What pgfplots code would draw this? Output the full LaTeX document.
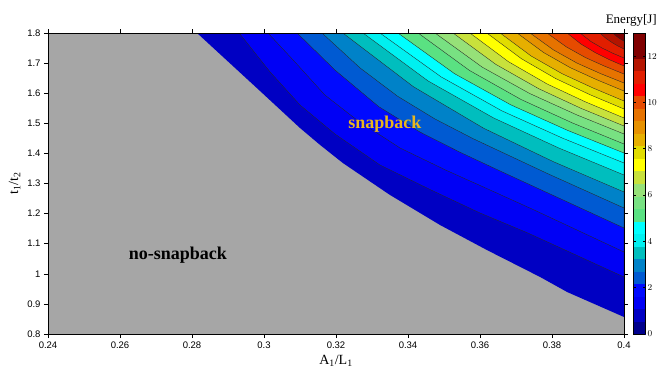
\documentclass[border=0pt]{standalone}
\usepackage{fontspec}
\setmainfont{Liberation Serif}
\setsansfont{Liberation Sans}
\usepackage{pgfplots}
\pgfplotsset{compat=1.18}
\usetikzlibrary{calc}
\definecolor{cgray}{RGB}{166,166,166}
\definecolor{c02}{RGB}{0,0,195}
\definecolor{c03}{RGB}{0,0,245}
\definecolor{c04}{RGB}{0,10,255}
\definecolor{c05}{RGB}{0,90,210}
\definecolor{c06}{RGB}{0,130,200}
\definecolor{c07}{RGB}{0,190,190}
\definecolor{c08}{RGB}{0,240,240}
\definecolor{c09}{RGB}{0,255,255}
\definecolor{c10}{RGB}{90,225,130}
\definecolor{c11}{RGB}{120,225,130}
\definecolor{c12}{RGB}{150,225,120}
\definecolor{c13}{RGB}{200,225,60}
\definecolor{c14}{RGB}{255,255,0}
\definecolor{c15}{RGB}{225,220,0}
\definecolor{c16}{RGB}{230,175,0}
\definecolor{c17}{RGB}{230,145,0}
\definecolor{c18}{RGB}{230,115,0}
\definecolor{c19}{RGB}{230,75,0}
\definecolor{c20}{RGB}{255,0,0}
\definecolor{c21}{RGB}{225,30,0}
\definecolor{c22}{RGB}{180,20,0}
\definecolor{c23}{RGB}{128,0,0}
\definecolor{snapgold}{RGB}{232,182,30}
\pgfplotsset{colormap={bands}{
 rgb255=(0,0,140) rgb255=(0,0,195) rgb255=(0,0,245) rgb255=(0,10,255)
 rgb255=(0,90,210) rgb255=(0,130,200) rgb255=(0,190,190) rgb255=(0,240,240)
 rgb255=(0,255,255) rgb255=(90,225,130) rgb255=(120,225,130) rgb255=(150,225,120)
 rgb255=(200,225,60) rgb255=(255,255,0) rgb255=(225,220,0) rgb255=(230,175,0)
 rgb255=(230,145,0) rgb255=(230,115,0) rgb255=(230,75,0) rgb255=(255,0,0)
 rgb255=(225,30,0) rgb255=(180,20,0) rgb255=(128,0,0) rgb255=(128,0,0)}}
\begin{document}
\begin{tikzpicture}
\begin{axis}[
  name=ax,
  scale only axis, width=576pt, height=301pt,
  xmin=0.24, xmax=0.4, ymin=0.8, ymax=1.8,
  xtick={0.24,0.26,...,0.41}, ytick={0.8,0.9,...,1.81},
  axis on top,
  axis background/.style={fill=cgray},
  axis line style={line width=0.9pt},
  tick align=outside, major tick length=4pt,
  every tick/.style={black, line width=0.6pt},
  tick label style={font=\sffamily\fontsize{9.5}{11}\selectfont},
  /pgf/number format/assume math mode=true,
  xticklabel style={/pgf/number format/fixed, /pgf/number format/precision=2},
  yticklabel style={/pgf/number format/fixed, /pgf/number format/precision=1},
  xlabel={A\textsubscript{1}/L\textsubscript{1}},
  ylabel={t\textsubscript{1}/t\textsubscript{2}},
  label style={font=\fontsize{14}{16}\selectfont},
  colormap name=bands,
  colormap access=piecewise constant,
  point meta min=0, point meta max=13,
  colorbar,
  colorbar shift/.style={xshift=9pt},
  colorbar style={at={(parent axis.north east)}, anchor=north west,
    width=12pt, ytick={0,2,...,12},
    yticklabel style={font=\sffamily\fontsize{9}{10}\selectfont, xshift=-1pt},
    major tick length=2.5pt},
]
% band above the no-snapback boundary
\addplot[fill=c02, draw=none] coordinates {(0.2814,1.8) (0.2989,1.6073) (0.3100,1.4844) (0.3156,1.4279) (0.3219,1.3681) (0.3350,1.2618) (0.3489,1.1621) (0.3619,1.0791) (0.3767,0.9894) (0.3842,0.9395) (0.4,0.8565) (0.4,1.8)};
\pgfplotsset{cline/.style={draw=black!85, line width=0.35pt}}
\addplot[fill=c03, cline] coordinates {(0.2931,1.8) (0.3017,1.6704) (0.3100,1.5608) (0.3197,1.4645) (0.3322,1.3615) (0.3464,1.2784) (0.3600,1.2020) (0.3733,1.1355) (0.4,0.9894) (0.4,1.8)};
\addplot[fill=c04, cline] coordinates {(0.3011,1.8) (0.3086,1.7037) (0.3169,1.5940) (0.3258,1.5110) (0.3378,1.4179) (0.3506,1.3439) (0.3628,1.2784) (0.3753,1.2106) (0.4,1.0724) (0.4,1.8)};
\addplot[fill=c05, cline] coordinates {(0.3092,1.8) (0.3197,1.6771) (0.3319,1.5551) (0.3433,1.4711) (0.3546,1.4030) (0.3656,1.3415) (0.3773,1.2771) (0.4,1.1522) (0.4,1.8)};
\addplot[fill=c06, cline] coordinates {(0.3161,1.8) (0.3267,1.6837) (0.3371,1.5900) (0.3475,1.5143) (0.3581,1.4488) (0.3790,1.3316) (0.4,1.2186) (0.4,1.8)};
\addplot[fill=c07, cline] coordinates {(0.3219,1.8) (0.3415,1.6216) (0.3610,1.4837) (0.3805,1.3718) (0.4,1.2718) (0.4,1.8)};
\addplot[fill=c08, cline] coordinates {(0.3275,1.8) (0.3456,1.6405) (0.3638,1.5176) (0.3819,1.4179) (0.4,1.3282) (0.4,1.8)};
\addplot[fill=c09, cline] coordinates {(0.3322,1.8) (0.3492,1.6542) (0.3661,1.5412) (0.3831,1.4498) (0.4,1.3681) (0.4,1.8)};
\addplot[fill=c10, cline] coordinates {(0.3372,1.8) (0.3529,1.6651) (0.3686,1.5611) (0.3843,1.4767) (0.4,1.4013) (0.4,1.8)};
\addplot[fill=c11, cline] coordinates {(0.3428,1.8) (0.3571,1.6754) (0.3714,1.5791) (0.3857,1.5010) (0.4,1.4312) (0.4,1.8)};
\addplot[fill=c12, cline] coordinates {(0.3475,1.8) (0.3606,1.6867) (0.3738,1.5990) (0.3869,1.5279) (0.4,1.4645) (0.4,1.8)};
\addplot[fill=c13, cline] coordinates {(0.3525,1.8) (0.3644,1.6957) (0.3763,1.6150) (0.3881,1.5495) (0.4,1.4910) (0.4,1.8)};
\addplot[fill=c14, cline] coordinates {(0.3572,1.8) (0.3679,1.7047) (0.3786,1.6309) (0.3893,1.5711) (0.4,1.5176) (0.4,1.8)};
\addplot[fill=c15, cline] coordinates {(0.3619,1.8) (0.3715,1.7146) (0.3810,1.6488) (0.3905,1.5953) (0.4,1.5475) (0.4,1.8)};
\addplot[fill=c16, cline] coordinates {(0.3656,1.8) (0.3742,1.7236) (0.3828,1.6648) (0.3914,1.6173) (0.4,1.5741) (0.4,1.8)};
\addplot[fill=c17, cline] coordinates {(0.3703,1.8) (0.3777,1.7349) (0.3851,1.6847) (0.3926,1.6439) (0.4,1.6073) (0.4,1.8)};
\addplot[fill=c18, cline] coordinates {(0.3739,1.8) (0.3804,1.7439) (0.3869,1.7003) (0.3935,1.6651) (0.4,1.6339) (0.4,1.8)};
\addplot[fill=c19, cline] coordinates {(0.3786,1.8) (0.3840,1.7538) (0.3893,1.7183) (0.3947,1.6894) (0.4,1.6638) (0.4,1.8)};
\addplot[fill=c20, cline] coordinates {(0.3842,1.8) (0.3881,1.7628) (0.3921,1.7342) (0.3960,1.7110) (0.4,1.6904) (0.4,1.8)};
\addplot[fill=c21, cline] coordinates {(0.3878,1.8) (0.3908,1.7718) (0.3939,1.7502) (0.3969,1.7326) (0.4,1.7169) (0.4,1.8)};
\addplot[fill=c22, cline] coordinates {(0.3933,1.8) (0.3950,1.7821) (0.3967,1.7681) (0.3983,1.7568) (0.4,1.7468) (0.4,1.8)};
\addplot[fill=c23, cline] coordinates {(0.3969,1.8) (0.3977,1.7910) (0.3985,1.7841) (0.3992,1.7784) (0.4,1.7734) (0.4,1.8)};
\node[font=\bfseries\fontsize{18}{20}\selectfont, text=snapgold] at (axis cs:0.3336,1.4977) {snapback};
\node[font=\bfseries\fontsize{18}{20}\selectfont, text=black] at (axis cs:0.2761,1.0625) {no-snapback};
\end{axis}
\node[anchor=south east, font=\fontsize{13}{15}\selectfont, inner sep=0pt] at ($(ax.north east)+(33pt,6pt)$) {Energy[J]};
\pgfresetboundingbox
\path[use as bounding box] ($(ax.south west)+(-48pt,-39pt)$) rectangle ($(ax.north east)+(33pt,33pt)$);
\end{tikzpicture}
\end{document}
